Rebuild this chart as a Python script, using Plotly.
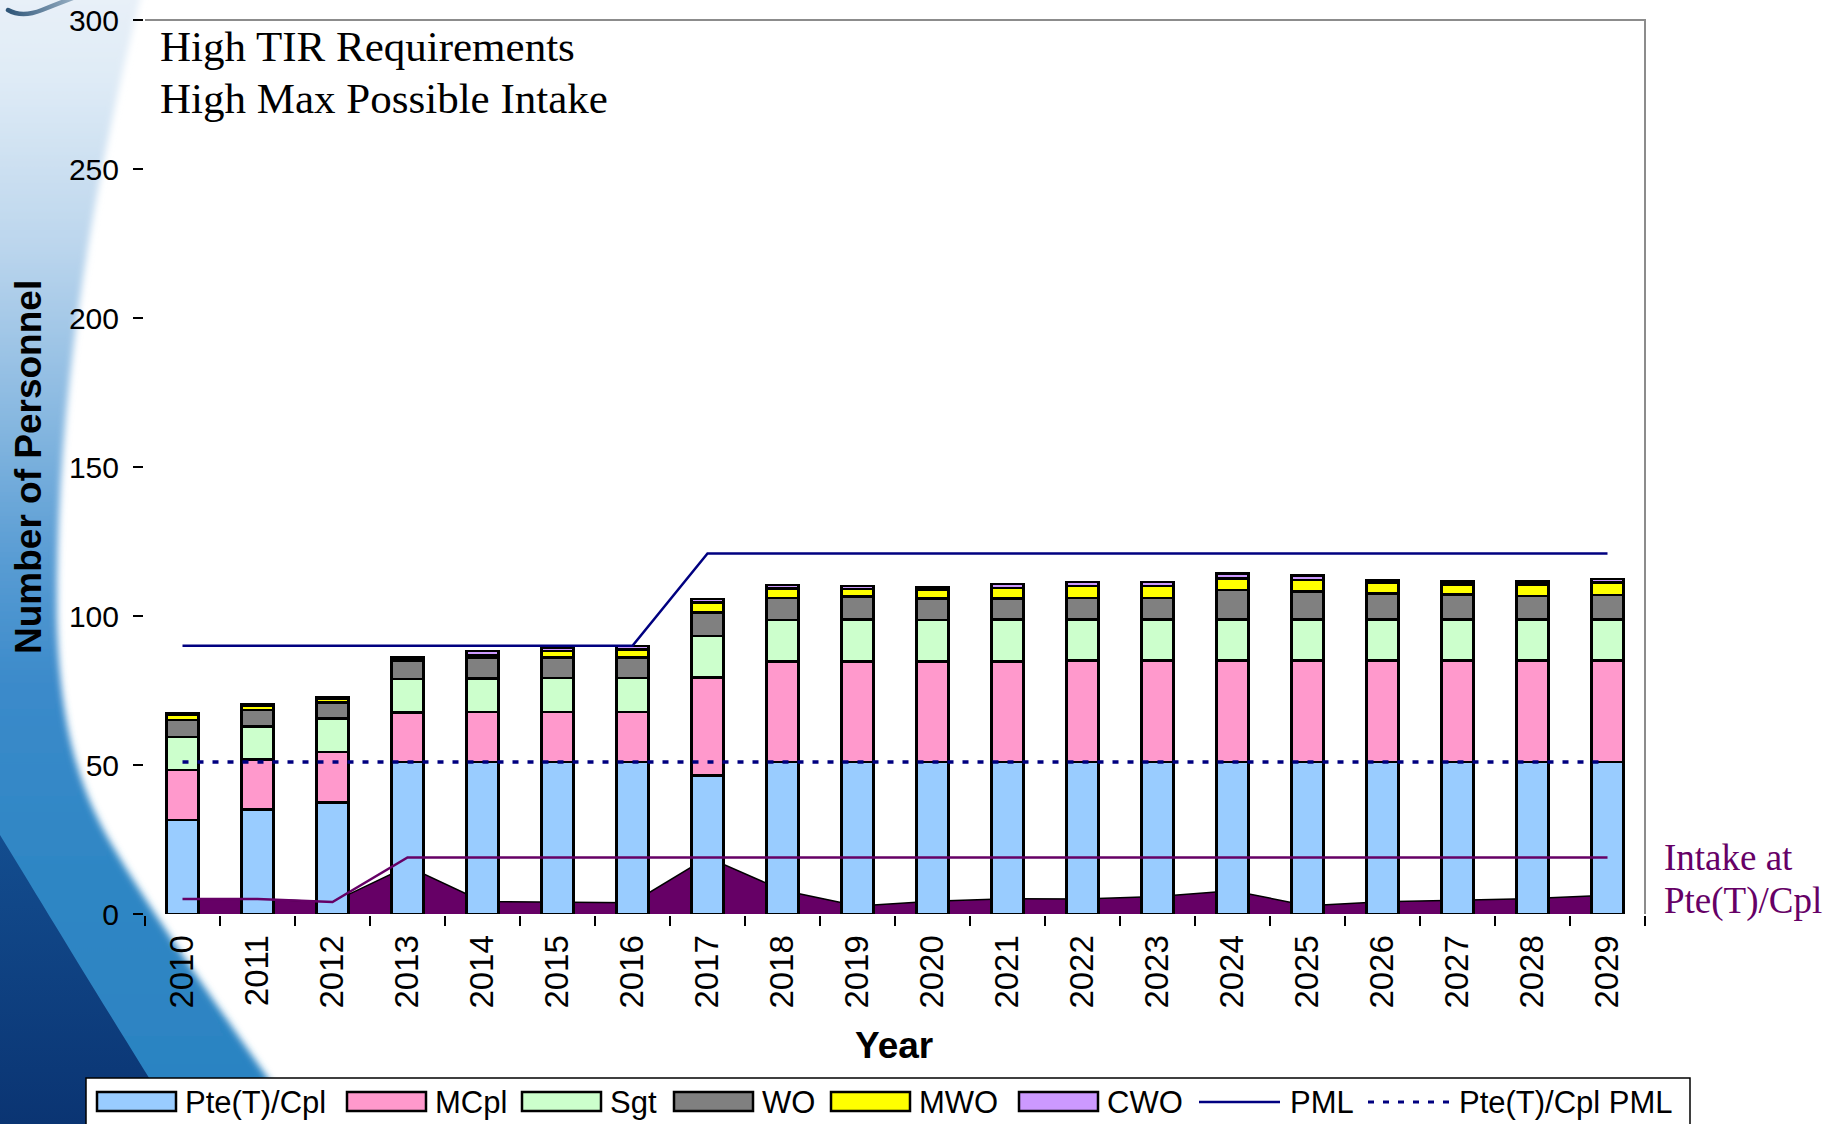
import base64
import plotly.graph_objects as go

W, H = 1844, 1124

# ---- data -------------------------------------------------------------
years = ["2010", "2011", "2012", "2013", "2014", "2015", "2016", "2017", "2018", "2019",
         "2020", "2021", "2022", "2023", "2024", "2025", "2026", "2027", "2028", "2029"]

pte_cpl = [31.5, 35.0, 37.5, 51.0, 51.0, 51.0, 51.0, 46.4, 51.0, 51.0,
           51.0, 51.0, 51.0, 51.0, 51.0, 51.0, 51.0, 51.0, 51.0, 51.0]
mcpl = [16.8, 16.8, 16.9, 16.6, 16.8, 16.8, 16.8, 33.0, 33.7, 33.7,
        33.7, 33.7, 34.0, 34.0, 34.0, 34.0, 34.0, 34.0, 34.0, 34.0]
sgt = [11.1, 11.1, 11.3, 11.2, 11.2, 11.4, 11.4, 13.9, 14.0, 14.2,
       14.0, 14.2, 13.9, 13.9, 13.9, 13.9, 13.9, 13.9, 13.9, 13.9]
wo = [5.7, 5.6, 5.2, 6.1, 7.0, 6.8, 6.8, 7.8, 7.4, 7.6,
      7.2, 6.9, 7.2, 7.2, 9.8, 9.3, 8.7, 8.4, 7.8, 8.1]
mwo = [1.7, 1.4, 1.4, 0.9, 0.9, 2.3, 2.7, 3.4, 3.2, 2.6,
       2.9, 3.6, 4.0, 4.0, 3.9, 3.9, 3.6, 3.3, 3.9, 4.2]
cwo = [0.7, 0.6, 0.5, 0.5, 1.3, 1.2, 1.2, 1.2, 1.1, 1.0,
       1.0, 1.3, 1.3, 1.3, 1.7, 1.4, 0.9, 0.9, 1.0, 1.2]

intake_actual = [5.0, 5.0, 4.0, 16.0, 4.2, 4.0, 3.8, 19.0, 8.0, 2.7,
                 4.3, 5.1, 5.0, 5.9, 7.8, 2.8, 4.1, 4.6, 5.2, 6.3]
intake_max = [5, 5, 4, 19, 19, 19, 19, 19, 19, 19,
              19, 19, 19, 19, 19, 19, 19, 19, 19, 19]
pml = [90, 90, 90, 90, 90, 90, 90, 121, 121, 121,
       121, 121, 121, 121, 121, 121, 121, 121, 121, 121]
pte_pml = [51, 51, 51, 51, 51, 51, 51, 51, 51, 51,
           51, 51, 51, 51, 51, 51, 51, 51, 51, 51]

rank_names = ["Pte(T)/Cpl", "MCpl", "Sgt", "WO", "MWO", "CWO"]
rank_values = [pte_cpl, mcpl, sgt, wo, mwo, cwo]
rank_colors = ["#99CCFF", "#FF99CC", "#CCFFCC", "#808080", "#FFFF00", "#CC99FF"]

y_ticks = [0, 50, 100, 150, 200, 250, 300]

NAVY = "#000080"
PLUM = "#660066"
SANS = "Liberation Sans, Arial, sans-serif"
SERIF = "Liberation Serif, Times New Roman, serif"

# plot area, in pixels of the page
PL, PR, PT, PB = 145, 1645, 20, 914


def fx(x):
    return x / W


def fy(y):
    return 1 - y / H


# ---- slide background (blue swoosh on the left) -----------------------
svg = f"""<svg xmlns="http://www.w3.org/2000/svg" width="{W}" height="{H}" viewBox="0 0 {W} {H}" preserveAspectRatio="none">
<defs>
 <linearGradient id="sky" x1="0" y1="0" x2="0" y2="1">
  <stop offset="0" stop-color="#ebf2f9"/>
  <stop offset="0.09" stop-color="#dfebf6"/>
  <stop offset="0.23" stop-color="#bcd6ed"/>
  <stop offset="0.38" stop-color="#86b7e0"/>
  <stop offset="0.49" stop-color="#5a9dd4"/>
  <stop offset="0.60" stop-color="#3b8aca"/>
  <stop offset="0.76" stop-color="#2e86c4"/>
  <stop offset="1" stop-color="#2b82c1"/>
 </linearGradient>
 <linearGradient id="deep" x1="0" y1="0" x2="0" y2="1">
  <stop offset="0" stop-color="#134d8f"/>
  <stop offset="1" stop-color="#0a3371"/>
 </linearGradient>
 <linearGradient id="ring" x1="0" y1="0" x2="1" y2="0">
  <stop offset="0" stop-color="#2f5678"/>
  <stop offset="1" stop-color="#9db4c8"/>
 </linearGradient>
 <filter id="soft" x="-0.2" y="-0.2" width="1.4" height="1.4"><feGaussianBlur stdDeviation="3.5"/></filter>
</defs>
<path d="M-30,-30 L150,-30 L140,0 C100,160 55,380 57,620 C60,740 85,800 115,850 C150,910 220,1010 300,1124 L320,1160 L-30,1160 Z"
      fill="url(#sky)" filter="url(#soft)"/>
<path d="M-10,835 L0,835 C40,900 100,1000 178,1124 L178,1140 L-10,1140 Z" fill="url(#deep)"/>
<path d="M8,10 Q22,18 42,10 T78,-4" fill="none" stroke="url(#ring)" stroke-width="4.5" stroke-linecap="round"/>
</svg>"""
bg_uri = "data:image/svg+xml;base64," + base64.b64encode(svg.encode("utf-8")).decode("ascii")

# ---- traces -----------------------------------------------------------
fig = go.Figure()

fig.add_trace(go.Scatter(
    x=years, y=intake_actual, mode="lines", fill="tozeroy",
    fillcolor=PLUM, line=dict(color="#000000", width=1.5),
    name="Intake", showlegend=False, zorder=-1, hoverinfo="skip"))

for name, vals, col in zip(rank_names, rank_values, rank_colors):
    fig.add_trace(go.Bar(
        x=years, y=vals, name=name,
        marker=dict(color=col, line=dict(color="#000000", width=2.6)),
        showlegend=False))

fig.add_trace(go.Scatter(
    x=years, y=intake_max, mode="lines", line=dict(color=PLUM, width=2.5),
    name="Intake at Pte(T)/Cpl", showlegend=False, zorder=1))
fig.add_trace(go.Scatter(
    x=years, y=pml, mode="lines", line=dict(color=NAVY, width=2.5),
    name="PML", showlegend=False, zorder=1))
fig.add_trace(go.Scatter(
    x=years, y=pte_pml, mode="lines", line=dict(color=NAVY, width=3.5, dash="6px,9px"),
    name="Pte(T)/Cpl PML", showlegend=False, zorder=1))

# ---- layout -----------------------------------------------------------
fig.update_layout(
    width=W, height=H,
    margin=dict(l=0, r=0, t=0, b=0, pad=0),
    paper_bgcolor="white", plot_bgcolor="white",
    barmode="stack", bargap=0.57,
    showlegend=False,
    font=dict(family=SANS, color="black"),
    xaxis=dict(
        domain=[fx(PL), fx(PR)], type="category", range=[-0.5, 19.5],
        showline=True, linecolor="black", linewidth=2,
        ticks="outside", ticklen=10, tickwidth=1.5, tickcolor="black",
        tickson="boundaries", tickangle=-90, ticklabelstandoff=6,
        tickfont=dict(family=SANS, size=33, color="black"),
        showgrid=False, zeroline=False, automargin=False, fixedrange=True),
    yaxis=dict(
        domain=[fy(PB), fy(PT)], range=[0, 300], tickvals=y_ticks,
        showline=True, linecolor="black", linewidth=2,
        ticks="outside", ticklen=10, tickwidth=1.5, tickcolor="black",
        ticklabelstandoff=8,
        tickfont=dict(family=SANS, size=30, color="black"),
        showgrid=False, zeroline=False, automargin=False, fixedrange=True),
    images=[dict(source=bg_uri, xref="paper", yref="paper", x=0, y=1,
                 sizex=1, sizey=1, xanchor="left", yanchor="top",
                 sizing="stretch", layer="below")],
)

shapes = []
# grey frame on the top and right of the plot area
shapes.append(dict(type="path", xref="paper", yref="paper",
                   path=f"M{fx(PL)},{fy(PT)} L{fx(PR)},{fy(PT)} L{fx(PR)},{fy(PB)}",
                   line=dict(color="#8c8c8c", width=2), layer="above"))

annotations = []
# axis titles
annotations.append(dict(text="<b>Number of Personnel</b>", xref="paper", yref="paper",
                        x=fx(29), y=fy(467), textangle=-90, showarrow=False,
                        xanchor="center", yanchor="middle",
                        font=dict(family=SANS, size=37, color="black")))
annotations.append(dict(text="<b>Year</b>", xref="paper", yref="paper",
                        x=fx(894), y=fy(1045), showarrow=False,
                        xanchor="center", yanchor="middle",
                        font=dict(family=SANS, size=37, color="black")))
# scenario caption
for txt, yc in [("High TIR Requirements", 47), ("High Max Possible Intake", 98)]:
    annotations.append(dict(text=txt, xref="paper", yref="paper", x=fx(158), y=fy(yc),
                            showarrow=False, xanchor="left", yanchor="middle",
                            font=dict(family=SERIF, size=43, color="black")))
# label for the intake line
for txt, yc in [("Intake at", 857), ("Pte(T)/Cpl", 901)]:
    annotations.append(dict(text=txt, xref="paper", yref="paper", x=fx(1662), y=fy(yc),
                            showarrow=False, xanchor="left", yanchor="middle",
                            font=dict(family=SERIF, size=37, color=PLUM)))

# ---- legend strip along the bottom --------------------------------------
LG_T, LG_L, LG_R = 1078, 86, 1690
shapes.append(dict(type="rect", xref="paper", yref="paper",
                   x0=fx(LG_L), x1=fx(LG_R), y0=fy(LG_T), y1=fy(H + 10),
                   fillcolor="white", line=dict(color="black", width=1.5), layer="above"))
sym_y0, sym_y1, text_y = 1092, 1111, 1102
rect_left = [97, 347, 522, 674, 831, 1019]
for name, col, x0 in zip(rank_names, rank_colors, rect_left):
    shapes.append(dict(type="rect", xref="paper", yref="paper",
                       x0=fx(x0), x1=fx(x0 + 79), y0=fy(sym_y1), y1=fy(sym_y0),
                       fillcolor=col, line=dict(color="black", width=2.5), layer="above"))
    annotations.append(dict(text=name, xref="paper", yref="paper", x=fx(x0 + 86), y=fy(text_y),
                            showarrow=False, xanchor="left", yanchor="middle",
                            font=dict(family=SANS, size=31, color="black")))
line_items = [("PML", 1199, None), ("Pte(T)/Cpl PML", 1368, "6px,9px")]
for name, x0, dash in line_items:
    shapes.append(dict(type="line", xref="paper", yref="paper",
                       x0=fx(x0), x1=fx(x0 + 81), y0=fy(text_y), y1=fy(text_y),
                       line=dict(color=NAVY, width=3 if dash else 2.5, dash=dash or "solid"),
                       layer="above"))
    annotations.append(dict(text=name, xref="paper", yref="paper", x=fx(x0 + 89), y=fy(text_y),
                            showarrow=False, xanchor="left", yanchor="middle",
                            font=dict(family=SANS, size=31, color="black")))

fig.update_layout(shapes=shapes, annotations=annotations)

fig.write_html("out.html")
